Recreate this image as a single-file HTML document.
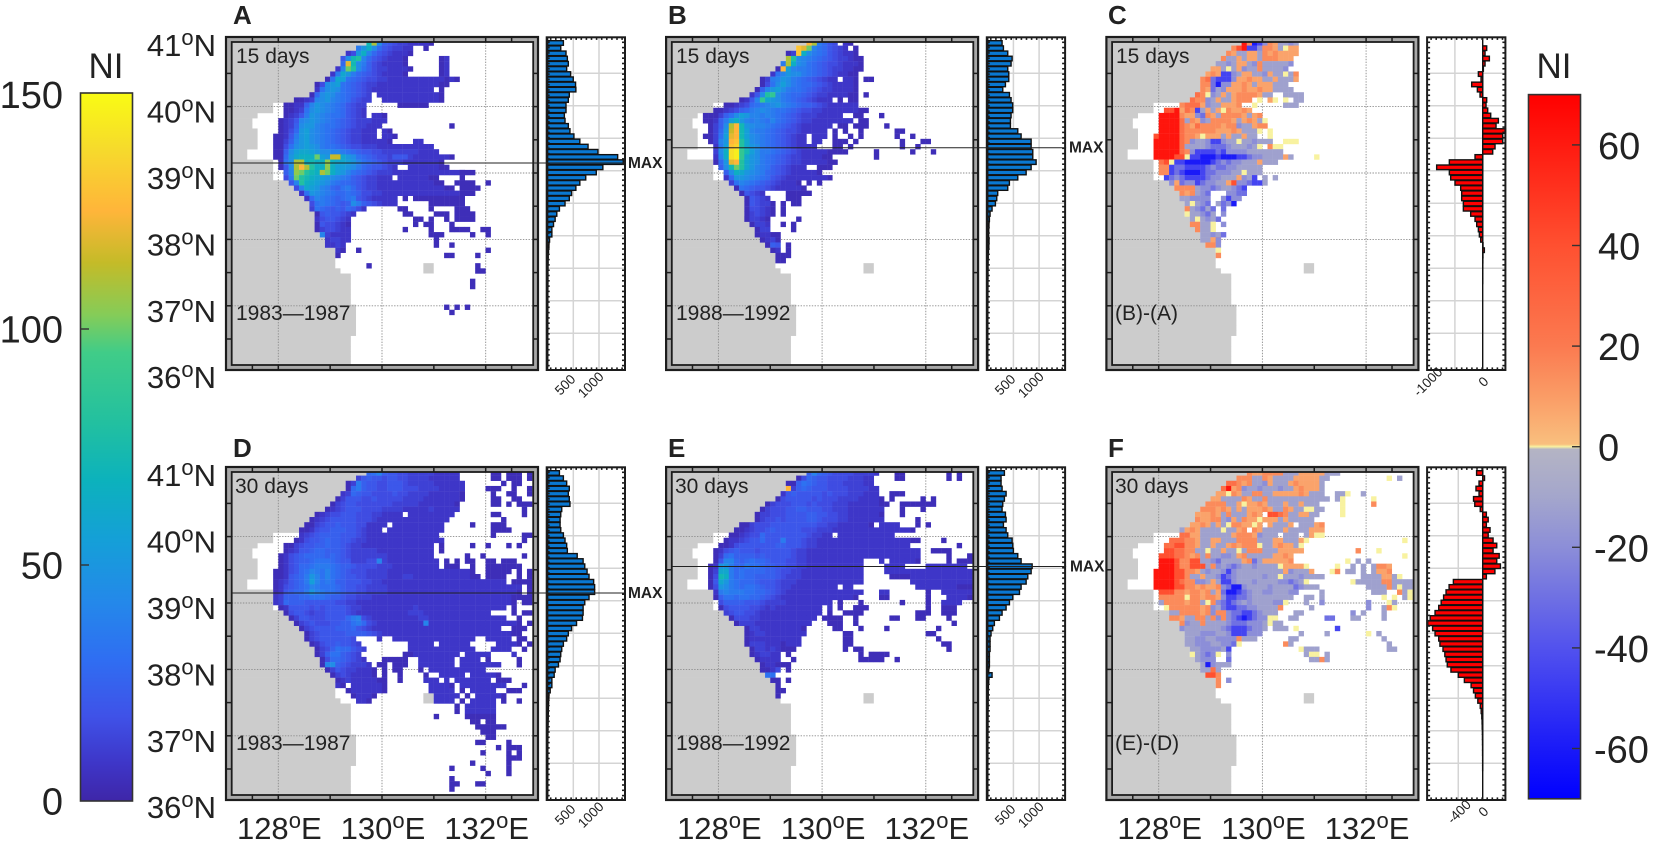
<!DOCTYPE html>
<html lang="en">
<head>
<meta charset="utf-8">
<title>NI maps</title>
<style>
html,body{margin:0;padding:0;background:#fff}
svg{display:block;filter:blur(0.35px)}
text{font-family:"Liberation Sans",Arial,sans-serif;fill:#222}
</style>
</head>
<body>
<svg id="chart" xmlns="http://www.w3.org/2000/svg" width="1654" height="841" viewBox="0 0 1654 841">
<defs>
<linearGradient id="gradNi" x1="0" y1="1" x2="0" y2="0"></linearGradient>
<linearGradient id="gradDiff" x1="0" y1="1" x2="0" y2="0"></linearGradient>
</defs>
<g id="marks"></g>
<g font-weight="bold" font-size="26">
<text x="233" y="24">A</text>
<text x="668" y="24">B</text>
<text x="1108" y="24">C</text>
<text x="233" y="457">D</text>
<text x="668" y="457">E</text>
<text x="1108" y="457">F</text>
</g>
<g font-size="21">
<text x="236" y="63">15 days</text>
<text x="236" y="320">1983—1987</text>
<text x="676" y="63">15 days</text>
<text x="676" y="320">1988—1992</text>
<text x="1116" y="63">15 days</text>
<text x="1115" y="320">(B)-(A)</text>
<text x="235" y="493">30 days</text>
<text x="236" y="750">1983—1987</text>
<text x="675" y="493">30 days</text>
<text x="676" y="750">1988—1992</text>
<text x="1115" y="493">30 days</text>
<text x="1115" y="750">(E)-(D)</text>
</g>
<g font-size="15.5" style="font-weight:600">
<text x="628" y="168">MAX</text>
<text x="1069" y="152.5">MAX</text>
<text x="628" y="598">MAX</text>
<text x="1070" y="571.5">MAX</text>
</g>
<g font-size="35">
<text x="106" y="78" text-anchor="middle">NI</text>
<text x="1554" y="78" text-anchor="middle">NI</text>
</g>
</svg>
<script>
// ---------- axis ticks ----------
const lonLabels = [128, 130, 132];
const latLabels = [41, 40, 39, 38, 37, 36];
const lonTicks = [127.5, 128, 129, 130, 131, 132, 132.5];
const lonGrid = [128, 130, 132];
const latGrid = [40, 39, 38, 37];
const latTicks = [40.5, 40, 39.5, 39, 38.5, 38, 37.5, 37, 36.5];
const niTicks = [150, 100, 50, 0];
const diffTicks = [60, 40, 20, 0, -20, -40, -60];

// ---------- colour levels ----------
const niLevels = [0,4,8,12,16,20,24,28,32,36,40,45,50,55,60,65,72,80,88,95,100,105,110,115,120,125,130,135,140,145,150];
const diffLetters = "abcdeyfghij";
const diffLevels = [-60,-45,-30,-20,-12,0,8,15,25,40,62];
const niStopValues = [0,8,18,30,42,55,68,80,95,103,114,125,138,150];
const niStopColors = ["#3e26a8","#3e36c8","#3f52e8","#2f6ef2","#2488ea","#159fd8","#0cb2bc","#22c0a0","#40cc88","#85cc58","#c4bb28","#ffb53a","#f6da2c","#f9fb14"];
const diffStopValues = [-70,-60,-40,-20,-10,-0.5,0,0.5,10,20,40,60,70];
const diffStopColors = ["#0000ff","#1a1af8","#5252ee","#8c8ed8","#a4a6cc","#b4b4c4","#f8f2a0","#f9bf7e","#fa9c66","#fb7a50","#ff5030","#ff1a10","#ff0000"];

// ---------- land mask: number of land cells in each row ----------
const coastCols = [26,24,22,22,21,20,18,17,16,15,13,12,8,8,5,4,4,5,5,5,5,3,3,8,8,8,8,9,10,11,12,13,14,14,15,15,16,16,17,18,19,20,20,20,21,23,23,23,23,23,23,24,24,24,24,24,24,23,23,23,23,23,23];

// ---------- histograms (one value per row) ----------
const histA = [307,256,358,384,403,371,448,499,544,550,422,403,358,358,326,339,403,435,512,627,787,979,1363,1472,1075,947,742,627,550,467,422,339,230,179,147,115,83,83,38,26,18,12,10,8,6,6,6,5,4,4,3,3,3,2,2,2,1,1,1,1,1,1,1];
const histB = [280,306,390,475,455,390,410,410,345,293,423,455,487,487,455,442,442,585,650,845,845,877,877,942,845,748,585,422,390,195,176,150,85,46,33,25,20,18,25,22,15,10,8,6,5,5,4,4,3,3,3,2,2,2,2,1,1,1,1,1,1,1,1];
const histC = [0,72,42,120,42,12,-78,-30,-198,-96,-48,72,60,90,144,282,240,420,360,360,222,180,-138,-600,-828,-600,-576,-498,-396,-378,-378,-348,-348,-216,-138,-108,-78,-60,-36,6,30,5,3,2,1,1,1,0,0,0,0,0,0,0,0,0,0,0,0,0,0,0,0];
const histD = [230,307,371,422,403,422,435,275,256,243,243,256,307,339,371,384,576,691,723,768,806,896,915,915,806,723,691,691,678,563,467,403,371,307,275,256,243,211,147,128,83,83,51,26,20,16,14,12,10,8,6,5,4,4,3,3,2,2,2,1,1,1,1];
const histE = [325,260,260,280,358,325,293,280,345,358,306,358,390,475,488,500,585,650,865,845,780,748,650,618,488,423,358,280,228,130,98,65,46,46,46,33,33,33,20,85,20,13,10,10,8,8,6,6,5,5,4,4,3,3,3,3,3,2,2,2,1,1,1];
const histF = [-100,30,-60,-110,-60,-150,-130,-40,60,90,60,120,90,170,230,170,270,230,290,200,60,-480,-550,-600,-640,-680,-720,-780,-860,-900,-820,-780,-720,-700,-650,-620,-600,-580,-520,-400,-300,-190,-150,-120,-80,-40,-25,-15,-10,-8,-5,-4,-3,-2,-2,-1,-1,-1,0,0,0,0,0];

// ---------- heatmap rows: [startColumn, "level characters", ...]; "." = no data ----------
const panelA = [
[26,"gmb6543322221"],
[24,"9cfb7543322",37,"1"],
[22,"24cfa75432221"],
[21,"5bgha75432221",40,"12"],
[21,"7ogb964322221",40,"12"],
[20,"2akhb8643322221",40,"12"],
[19,"29ec97654322221",40,"12"],
[18,"18ed8765443322222222222121"],
[16,"14bcd876543322222222222211"],
[16,"28bcb876543222222222222",40,"1"],
[15,"17bcb9876543",28,"2222222222221"],
[12,"1123abca9875433",29,"222222222221"],
[10,"11226acba9875433",32,"111111"],
[10,"11238bcba9875432"],
[10,"12359cba98875432",27,"221"],
[9,"1235abcba987654333222"],
[9,"1236bcca988765433222",42,"1"],
[9,"1247cdba98765433222",29,"21"],
[8,"11259cdba98765433222",29,"221"],
[8,"1136acdba98765433222221",35,"22"],
[8,"1148bcdcb9887654433322222222222"],
[8,"116bdeedcbbaa9876554433333332222"],
[8,"117cefffkdcnnecb876544355532222222",42,"1"],
[9,"18bmmfgfflfeedca8765433322222221"],
[9,"15bmpmhfflfddcb9765543",31,"2",34,"22222211"],
[10,"6alkhgfmkfdca8765433322222222222222",44,"11",46,"1"],
[10,"49khgfedcba9865433222",32,"22222211",44,"1"],
[11,"5ahfedcb9877654332222222222211",43,"1111",49,"1"],
[12,"4aedca9768975433222222222222211",44,"1111"],
[13,"28cba98778764433222222222222222111"],
[14,"27a987678954322222",33,"1",35,"1111111111"],
[15,"48987656b96543222",38,"1111111"],
[15,"38765657642",32,"11",38,"1",43,"111"],
[16,"15655432",33,"11",39,"111",43,"1111"],
[16,"2455432",35,"11",38,"1",41,"1",43,"1111"],
[16,"1544321",35,"1",37,"11",42,"1"],
[16,"1344322",33,"1",38,"1",42,"111",45,"1",48,"11"],
[17,"a32222",38,"111",46,"1",49,"1"],
[18,"23322",39,"1"],
[18,"2232",39,"1",42,"1"],
[20,"21",24,"1",49,"1"],
[20,"1",41,"11",47,"1"],
[],
[26,"1",47,"1"],
[47,"11"],
[],
[46,"1"],
[46,"1"],
[],[],[],
[41,"1",43,"1",45,"1"],
[42,"1"]
];
const panelB = [
[26,"pm9754.21"],
[24,"qoka875432",35,"1"],
[22,"13qfb987543221"],
[22,"mhba98765433211"],
[21,"9mfba87654432221"],
[20,"1pda9987654332211"],
[19,"28acbb98765432211"],
[17,"139acb987654322",33,"221",37,"11"],
[17,"148bdb9877654322221"],
[16,"16acdb98876543322221"],
[15,"25bhib987765433222211",37,"1"],
[13,"125aiecb9876543222",32,"1",34,"11"],
[10,"11234789abca98766543222222"],
[8,"11234679aba988765443322222221",37,"1"],
[6,"111368bdcaa9a98765433322222",35,"11",40,"1"],
[6,"11269dfca9a98a876543322222222",36,"11"],
[7,"136bmpgcbaa9876543222222",32,"11",35,"111",41,"1"],
[7,"137cnpgda99876544322222",31,"1",33,"1",36,"1",43,"11"],
[6,"1138dopgdba987654322",27,"222",31,"1",34,"1",36,"1",43,"1",46,"1"],
[7,"13acpqheba987654322",27,"22",31,"11",33,"1",35,"1",44,"1",48,"11"],
[8,"29dqrhecb98765432222",31,"11",34,"1",44,"1",47,"1"],
[8,"3bfstigdb99876543222221111",39,"1",46,"1",50,"1"],
[8,"2afstiecb98765433222211",39,"1"],
[8,"17cophecb987654332222211"],
[9,"6bgkheca986543222",28,"111"],
[10,"6bfecba976543222221"],
[10,"27ccba987543222222221"],
[11,"38a98765432221",26,"1",28,"1"],
[12,"18765543222221"],
[13,"15432",22,"1111",26,"1"],
[14,"15432",22,"111"],
[14,"15433",19,"1",21,"1",23,"11"],
[14,"144321",21,"1"],
[14,"134321",21,"1"],
[14,"13321",24,"1"],
[15,"1332",21,"1",23,"1"],
[16,"133",23,"1"],
[16,"1221",20,"1"],
[17,"1231"],
[18,"165",22,"1"],
[19,"12",22,"1"],
[20,"11",22,"1"],
[20,"11"]
];
const panelC = [
[25,"jgabdgfeede"],
[23,"gijbbdggfeyff"],
[22,"gfeeffegfgffff"],
[21,"geefeffegggfff"],
[20,"eedeffedgeeeeed"],
[19,"ffeyefdeegeeeed"],
[18,"fgfbbdeffeedfeeyeg"],
[17,"ghcbbbdffgffeefeeef"],
[17,"ggcaddffgfefffeee"],
[17,"gfcedfffgffgffeeee"],
[16,"hgydefefgggg",28,"fee",33,"eeee"],
[15,"hggdefeefggg",28,"y",30,"f",31,"y",33,"y",35,"ee"],
[13,"ghhhfdeefffg",27,"y",33,"eee"],
[10,"iijfhgbefefygffgf"],
[9,"jjjjgffdcgfeggggfefg"],
[9,"jjjjhegfdeggggfefgfey"],
[9,"jjjjhgfhggggfggdeefgg"],
[9,"jjjjhggggggfffgfeeey.y"],
[8,"ijjjjhggfyfffefeefee",30,"y"],
[8,"jjjjjhgdeedbbdeeyeedeee",33,"yy",35,"y"],
[8,"jjjjjheeeedcccdeeedey",30,"g",31,"yy"],
[8,"jjjjjhgdbbbbcbddddeeee",30,"eee"],
[8,"jjjjiiybbaaabaaabbcddeeeefe",39,"y"],
[9,"hiybbaaaaabcdcddeeefeee"],
[9,"ggbccbbbbcdccddeeeee"],
[9,"ggbcbaaabccdddeeyeee"],
[10,"bcdcbbbbcddeeefdeb",29,"e",31,"e"],
[11,"dfcddbcddeefiddcbb",29,"e"],
[12,"ggggeddcdeedcb"],
[13,"gfgedc",22,"ddcc"],
[13,"eedddd",21,"dbdd"],
[14,"eyedc",20,"e",21,"cda"],
[14,"gedce",19,"c",21,"c"],
[14,"yeedce",21,"d"],
[15,"eyede",20,"c"],
[15,"ggeey",21,"d"],
[16,"geey"],
[17,"eede",21,"c"],
[17,"eefh",20,"d"],
[18,"ggd"],
[20,"y"],
[20,"g"]
];
const panelD = [
[26,"78a655443333322222",50,"11.111",57,"1"],
[24,"35655455443333222222",50,"11",53,"111",57,"1"],
[22,"13965544555433333222222",52,"1",54,"11"],
[22,"17965544555444333322222",49,"111",54,"1",57,"1"],
[21,"237655444454433332222221",50,"1",53,"11",57,"1"],
[20,"1355544544444333322222221",50,"11",54,"11"],
[19,"1345544444443333322222221",50,"11",53,"1",55,"111"],
[18,"12345554444333322222322222",56,"1"],
[16,"12344555444332222.222222222",50,"11",56,"1"],
[15,"123455555444322222222222222",52,"1"],
[14,"1134556555442222.2222222222",46,"1",50,"111"],
[13,"1124556665543222.22222222222",50,"1111"],
[13,"2345666655543222222222222",38,"22",50,"1",56,"11"],
[12,"12455676655433222222222222222",56,"1"],
[10,"11345566766543322222222222222",40,"1",46,"1",49,"1",53,"1",55,"1"],
[10,"1235567766654333332222222222",38,"2",40,"1"],
[9,"124567777676543333333222222222",45,"1",48,"1",56,"1"],
[9,"1245667888765533344a32222222222",41,"1",43,"1",45,"11",49,"11",52,"111"],
[9,"1245778999876654444333222222222",41,"11",43,"1",46,"1",49,"1111111"],
[8,"1124578a98a876544433332222222222222222",46,"1",49,"11111",55,"1",57,"1"],
[8,"1125679ca8a87655443333222332222222222222",46,"11",49,"1111",55,"1.1"],
[8,"1235679da898665554433222222222222222222222222",54,"1111"],
[8,"1245678a9888765544333322222222222222222222222222",57,"1"],
[8,"1256779ca988765544333322222222222222222222222221",57,"1"],
[8,"23666778887665443332222222222222222222222222221111"],
[8,"2376665555554433222222222222222222222222222222",54,"1",56,"11"],
[9,"12555545455554332222222222322222222222222222",54,"1"],
[10,"1455434455554322222222223332222222222222",54,"1",56,"11"],
[11,"1355444555579a4322222222233222222222222222",55,"1"],
[12,"1345444556689743222222222a22222222222222222",55,"1",57,"1"],
[13,"134555566675432222222222222222222222222",54,"111"],
[14,"1345555566665432222222222222222222222222",54,"11"],
[14,"1345555554",28,"2",31,"2222222222222222",49,"22222",55,"11"],
[15,"1245565543",34,"22222.222222",51,"2222",55,"1",57,"1"],
[16,"1346877543",34,"2222222222222",50,"2222",56,"1"],
[16,"136886543",33,"11222222222.22222",54,"2"],
[17,"147765432",29,"11111",36,"2222222",44,"2222",49,"1",55,"1"],
[17,"1ab6543332",28,"11",31,"111",36,"2222222.22222222",55,"1"],
[18,"1354332221",29,"1",31,"11",36,"1",38,"22222222222"],
[19,"134322221",29,"1",32,"1",37,"1",40,"22222",46,"22222",51,"1"],
[20,"123222221",29,"1",32,"1",37,"222",41,"2",43,"2222222",51,"111"],
[20,"21",23,"222222",29,"1",38,"2222",42,"1",44,"222222222",56,"1"],
[22,"12222221",38,"22222",44,"1",46,"22222",53,"111"],
[23,"12221",39,"22222",45,"1",47,"22222",52,"1"],
[24,"221",39,"2222",44,"1",46,"22222",52,"1",55,"1"],
[43,"1",45,"222222"],
[43,"1",45,"222222"],
[39,"1",45,"111111"],
[46,"11",49,"11"],
[47,"1111",51,"11"],
[48,"111"],
[49,"11"],
[47,"11",53,"1"],
[51,"1",53,"111"],
[48,"1",53,"1",55,"1"],
[53,"111"],
[46,"1",53,"1"],
[42,"1",48,"1",53,"1"],
[49,"1",53,"1"],
[42,"1"],
[42,"11",47,"11"],
[42,"1"]
];
const panelE = [
[26,"6a765444433332",43,"11",53,"1",55,"1"],
[24,"147655444433322",43,"11",53,"1",55,"1"],
[22,"11687655444333322"],
[22,"p36765554444333322"],
[21,"2565555545444333222",42,"111"],
[20,"145555545444333322221",42,"1",48,"1",50,"1"],
[18,"134445554544433322222211",44,"111111",50,"1"],
[17,"134445566555443332222222",44,"1",48,"1"],
[16,"1334445555665544332222221",44,"1"],
[16,"1344545555665444332222222",47,"1"],
[13,"11344455555555544332222221",40,"2222",47,"1",49,"1"],
[12,"1123445655555444333222222222222222",46,"1"],
[11,"11234475555555543322.22222222222"],
[10,"122345575559555433222222222222222222",46,"11",52,"1"],
[9,"1124555555566555433222222222222222222",55,"1"],
[8,"1245655545555554332222222222222222222222",50,"1111"],
[8,"1378666656555554332222222222222222222222",53,"1",57,"1"],
[8,"15aa7678776555443322222222222",40,"2",42,"22222",47,"1",53,"1",55,"11",57,"1"],
[7,"12cc97798876655443322222222222",41,"2222",49,"22222222"],
[7,"13ee97877776654433222222222222",41,"22222222222222222"],
[7,"14gf97877666654333222222222222",42,"1111222222222222"],
[7,"15ec98777655543332222222222222",46,"222222222222"],
[7,"14cb987887655433222222222.22",47,"22222222",55,"1",56,"11"],
[8,"29a9998877654322222222222222",36,"2",40,"22",49,"1",52,"2222",56,"22"],
[8,"168878877654322222222222222",35,"1",40,"11",49,"1",53,"2222",57,"1"],
[9,"46666555433332222222",29,"22",32,"1",36,"1",44,"1",49,"1",52,"2222"],
[9,"14555544323222222222",30,"2",32,"1",35,"111",49,"1",52,"111"],
[10,"3455443222222222222",30,"1",33,"1111",47,"11",49,"1",52,"111"],
[11,"14443322222222222",29,"111",32,"1",35,"1",42,"11",47,"11",53,"1"],
[12,"133322222222222",30,"111",35,"1",54,"1"],
[14,"133222222221",31,"11",36,"1",41,"1",51,"1"],
[14,"123322222222",33,"11",49,"11"],
[14,"12222222222",33,"11",51,"1"],
[14,"1333222",21,"1222",33,"11",52,"11"],
[15,"133232",21,"111",33,"1",35,"11",53,"1"],
[15,"123322",22,"1",36,"1",38,"111",41,"1"],
[16,"12222",23,"1",36,"11111",43,"1"],
[17,"122",20,"111"],
[17,"1124",22,"1"],
[18,"88"],
[19,"11",22,"1"],
[20,"1"],
[20,"11"],
[20,"1"]
];
const panelF = [
[26,"gffggggeeefffffeee"],
[24,"gggeegfeeeefffffee",53,"y",55,"e"],
[22,"hhgfgeedfeeefgffffe"],
[21,"hjfgdeedeeedeefgfffe"],
[20,"ffygfeeggeefffffgfeee",43,"ee",45,"y",48,"e"],
[19,"ffeeeegfeegeeeeeeeeeeee",43,"ey",50,"y"],
[18,"ggggeefyffgfeeefeefeee",44,"y",50,"g"],
[17,"gggfgfefefffgfeegfeeyyee",44,"y"],
[16,"fffgfegeeefgf.iihgeeffee",44,"y"],
[16,"gffggedfegffyfffefeeeee"],
[15,"ffgfefeyggffyf.feeef.eeefg"],
[13,"efgfeeeeyeefg.gfeeeefeeeefff"],
[13,"hhffeeeeeefgggfdeee.eee.efyy"],
[11,"hhhggfeeffeeeggggeeeffeeefy",56,"y"],
[10,"hhiiggfeefeefgfgggyeefgffey"],
[10,"iihhggeeyeefeeyegggeeefffff",47,"g",51,"y"],
[9,"iiihhgfgegeeddefgeeeeeffgf",56,"y"],
[9,"jjjiggiieedceeeefgcefffffg",45,"y",47,"e",49,"e"],
[9,"jjjiggiiiegdedcdeedeeeeyffffy",43,"y",46,"e",48,"e",50,"eggf"],
[8,"jjjjiiggfedeedbdeeeeeeeeefdeeef",42,"yg",45,"ee",48,"e",50,"effg"],
[8,"jjjjiigeefeedbcdeeeeedeeyeeedeeee",48,"eeeeffey"],
[8,"jjjjihggddefebbdeeedeeeeddcdey",46,"y",47,"eeeeeggeeee"],
[8,"jjjjiiggfgffgdcaadeeeedeeeecdeee",49,"eeeegeyeeg"],
[9,"iiiggfggfgefcaabcdeeddeeedd",40,"e",50,"e",51,"ee",55,"gey"],
[9,"gggggyggfggfdbbccdeeeeeeee",37,"ee",40,"e",52,"y",54,"y",56,"ey"],
[9,"eggggfggeygdcbcdedeeeeddy",37,"e",40,"d",49,"d",53,"ye"],
[10,"yggggggfgdecbbccddeeeeg",38,"e",49,"d",52,"egy"],
[11,"eeggggfgdggdccbbcdeee",35,"ee",46,"d",48,"e",52,"e"],
[11,"ggfeeggegdgdcbabcddee",30,"yy",34,"ee",41,"cc",46,"ee",52,"e"],
[13,"gdeegeeeedcccddde",30,"y",31,"ee"],
[13,"deeeeeeedcbbbcdde",31,"eee",35,"y",43,"b"],
[14,"eeedddeedbbbddd",36,"e",41,"e",49,"y",51,"e"],
[14,"eeddeeddddgeee",34,"ee",52,"e"],
[14,"eedddeeddcy",33,"g",34,"e",53,"e"],
[15,"eedddde",22,"b",36,"y",37,"eee",53,"ee"],
[15,"yedcdy",22,"d",37,"eyy",41,"e"],
[16,"eddd",22,"c",38,"eeg",41,"e"],
[17,"ea",19,"d",20,"eee"],
[17,"eeh",20,"e"],
[18,"iig"],
[20,"g",22,"d"],
[20,"g"]
];

// ---------- panel layout ----------
const panelLayout = [
 {key:"a", left:231.7, top:0,   rows:panelA, hist:histA, diff:false, scale:0.0514, zero:0.9,  maxLat:39.15, lon:false},
 {key:"b", left:671.8, top:0,   rows:panelB, hist:histB, diff:false, scale:0.0514, zero:0.9,  maxLat:39.38, lon:false},
 {key:"c", left:1112.1,top:0,   rows:panelC, hist:histC, diff:true,  scale:0.0556, zero:55.6, maxLat:null,  lon:false},
 {key:"d", left:231.7, top:430, rows:panelD, hist:histD, diff:false, scale:0.0514, zero:0.9,  maxLat:39.15, lon:true},
 {key:"e", left:671.8, top:430, rows:panelE, hist:histE, diff:false, scale:0.0514, zero:0.9,  maxLat:39.55, lon:true},
 {key:"f", left:1112.1,top:430, rows:panelF, hist:histF, diff:true,  scale:0.0611, zero:55.6, maxLat:null,  lon:true}
];
const histTickSets = {a:[500,1000],b:[500,1000],c:[-1000,0],d:[500,1000],e:[500,1000],f:[-400,0]};
const histGridSets = {a:[500,1000],b:[500,1000],c:[-500,0],d:[500,1000],e:[500,1000],f:[-400,0]};

const SVGNS = "http://www.w3.org/2000/svg";
const CELL = 5.18;
const marks = document.getElementById("marks");

function make(tag, attrs, parent){
  const e = document.createElementNS(SVGNS, tag);
  for (const k in attrs) e.setAttribute(k, attrs[k]);
  parent.appendChild(e);
  return e;
}
function hex(c){return [parseInt(c.slice(1,3),16),parseInt(c.slice(3,5),16),parseInt(c.slice(5,7),16)];}
function ramp(v, vals, cols){
  if (v <= vals[0]) return cols[0];
  for (let i=1;i<vals.length;i++){
    if (v <= vals[i]){
      const t=(v-vals[i-1])/(vals[i]-vals[i-1]);
      const a=hex(cols[i-1]), b=hex(cols[i]);
      return "rgb("+[0,1,2].map(function(j){return Math.round(a[j]+(b[j]-a[j])*t);}).join(",")+")";
    }
  }
  return cols[cols.length-1];
}
function cellColor(ch, isDiff){
  if (isDiff){
    const v = diffLevels[diffLetters.indexOf(ch)];
    return ramp(v, diffStopValues, diffStopColors);
  }
  const n = niLevels[parseInt(ch,36)];
  return ramp(n, niStopValues, niStopColors);
}
// axes
function cellX(p,col){return p.left+col*CELL;}
function cellY(p,row){return p.top+40.4+row*CELL;}
function lonX(p,lon){return p.left+46.6+(lon-128)*51.85;}
function latY(p,lat){return p.top+173-(lat-39)*66.4;}
function histLeft(p){return p.left+315;}
function histX(p,v){return histLeft(p)+p.zero+v*p.scale;}
function niY(v){return 801-v*4.72;}
function diffY(v){return 446.7-v*5.03;}
function firstDataCol(row){return row && row.length ? row[0] : null;}

// gradients
[["gradNi",niStopValues,niStopColors,0,150],["gradDiff",diffStopValues,diffStopColors,-70,70]].forEach(function(g){
  const node=document.getElementById(g[0]);
  g[1].forEach(function(v,i){
    const s=make("stop",{offset:(v-g[3])/(g[4]-g[3]),"stop-color":g[2][i]},node);
    
    
  });
});

panelLayout.forEach(function(p){
  const group=make("g",{},marks);
  
  

  // land: the coast meets the first data cell along the diagonal shores
  coastCols.forEach(function(n,r){
    let cols=n;
    const f=firstDataCol(p.rows[r]);
    if (f!==null && (r<12 || (r>26 && r<42)) && f>n && f<=n+6) cols=f;
    const land=make("rect",{x:p.left,y:cellY(p,r),width:cols*CELL,height:CELL+0.3,fill:"#cccccc"},group);
    
    
  });
  const isle=make("rect",{x:cellX(p,37),y:cellY(p,43),width:2*CELL,height:2*CELL,fill:"#cccccc"},group);
  
  

  // grid
  lonGrid.forEach(function(l){
    const g=make("line",{x1:lonX(p,l),x2:lonX(p,l),y1:p.top+42,y2:p.top+365,stroke:"#8c8c8c","stroke-width":0.9,"stroke-dasharray":"1.4 1.4"},group);
    
    
  });
  latGrid.forEach(function(l){
    const g=make("line",{x1:p.left,x2:p.left+301.5,y1:latY(p,l),y2:latY(p,l),stroke:"#8c8c8c","stroke-width":0.9,"stroke-dasharray":"1.4 1.4"},group);
    
    
  });

  // heat cells
  p.rows.forEach(function(row,r){
    for (let s=0;s<row.length;s+=2){
      const start=row[s], str=row[s+1];
      for (let i=0;i<str.length;i++){
        const ch=str[i];
        if (ch==="."||start+i>57) continue;
        const cell=make("rect",{x:cellX(p,start+i),y:cellY(p,r),width:CELL+0.2,height:CELL+0.2,fill:cellColor(ch,p.diff)},group);
        
        
      }
    }
  });

  // map frame band
  const ox=p.left-5.7, oy=p.top+37, ow=312, oh=333;
  const ix=p.left, iy=p.top+42, iw=301.5, ih=323;
  const band=make("path",{d:"M"+ox+" "+oy+"h"+ow+"v"+oh+"h"+(-ow)+"zM"+ix+" "+iy+"v"+ih+"h"+iw+"v"+(-ih)+"z",fill:"#a8a8a8","fill-rule":"evenodd"},group);
  
  
  const outer=make("rect",{x:ox,y:oy,width:ow,height:oh,fill:"none",stroke:"#1c1c1c","stroke-width":2.2},group);
  
  
  const inner=make("rect",{x:ix,y:iy,width:iw,height:ih,fill:"none",stroke:"#1c1c1c","stroke-width":1.8},group);
  
  

  // frame ticks
  lonTicks.forEach(function(l){
    [[oy,iy],[iy+ih,oy+oh]].forEach(function(a){
      const t=make("line",{x1:lonX(p,l),x2:lonX(p,l),y1:a[0],y2:a[1],stroke:"#1c1c1c","stroke-width":1.5},group);
      
      
    });
  });
  latTicks.forEach(function(l){
    [[ox,ix],[ix+iw,ox+ow]].forEach(function(a){
      const t=make("line",{x1:a[0],x2:a[1],y1:latY(p,l),y2:latY(p,l),stroke:"#1c1c1c","stroke-width":1.5},group);
      
      
    });
  });

  // histogram
  const hl=histLeft(p), ht=p.top+37.3, hw=78.3, hh=332.7;
  const hg=make("g",{},group);
  
  
  histGridSets[p.key].forEach(function(v){
    if (p.diff && v===0) return;
    const g=make("line",{x1:histX(p,v),x2:histX(p,v),y1:ht,y2:ht+hh,stroke:"#d4d4d4","stroke-width":1.5},hg);
    
    
  });
  for (let k=0;k<9;k++){
    const y=p.top+73.3+32.5*k;
    const g=make("line",{x1:hl,x2:hl+hw,y1:y,y2:y,stroke:"#d4d4d4","stroke-width":1.5},hg);
    
    
  }
  const base=make("line",{x1:histX(p,0),x2:histX(p,0),y1:ht,y2:ht+hh,stroke:"#111","stroke-width":1.4},hg);
  
  
  p.hist.forEach(function(v,r){
    if (v===0) return;
    const a=histX(p,Math.min(v,0)), b=histX(p,Math.max(v,0));
    const bar=make("rect",{x:Math.max(a,hl),y:cellY(p,r)+0.3,width:Math.min(b,hl+hw)-Math.max(a,hl),height:CELL-0.6,fill:p.diff?"#ff0000":"#0a78d2",stroke:"#111","stroke-width":1.4},hg);
    
    
  });
  const hf=make("rect",{x:hl,y:ht,width:hw,height:hh,fill:"none",stroke:"#1c1c1c","stroke-width":2},hg);
  
  
  for (let y=ht+5;y<ht+hh-2;y+=5.3){
    [[hl,hl+3],[hl+hw-3,hl+hw]].forEach(function(a){
      const t=make("line",{x1:a[0],x2:a[1],y1:y,y2:y,stroke:"#1c1c1c","stroke-width":1.6},hg);
      
      
    });
  }
  for (let x=hl+4;x<hl+hw-2;x+=5.1){
    [[ht,ht+2.6],[ht+hh-2.6,ht+hh]].forEach(function(a){
      const t=make("line",{x1:x,x2:x,y1:a[0],y2:a[1],stroke:"#1c1c1c","stroke-width":1.6},hg);
      
      
    });
  }
  histTickSets[p.key].forEach(function(v){
    const x=histX(p,v);
    const tx=p.diff?x+4:x-5, ty=p.top+(p.diff?385:388);
    const lab=make("text",{x:tx,y:ty,"font-size":13.5,"text-anchor":"middle",fill:"#333",transform:"rotate(-45 "+tx+" "+ty+")"},hg);
    
    
    lab.textContent=String(v);
  });

  // MAX line
  if (p.maxLat!==null){
    const y=latY(p,p.maxLat);
    const m=make("line",{x1:p.left,x2:hl+hw+1,y1:y,y2:y,stroke:"#222","stroke-width":1},group);
    
    
  }

  // latitude labels (left column only)
  if (p.key==="a"||p.key==="d"){
    latLabels.forEach(function(l){
      const t=make("text",{x:216,y:latY(p,l)+16,"font-size":31,"text-anchor":"end"},group);
      
      
      const a=make("tspan",{},t); a.textContent=String(l);
      const b=make("tspan",{dy:-11,"font-size":22},t); b.textContent="o";
      const c=make("tspan",{dy:11},t); c.textContent="N";
    });
  }
  // longitude labels
  if (p.lon){
    lonLabels.forEach(function(l){
      const t=make("text",{x:lonX(p,l)+1,y:839,"font-size":31,"text-anchor":"middle"},group);
      
      
      const a=make("tspan",{},t); a.textContent=String(l);
      const b=make("tspan",{dy:-11,"font-size":22},t); b.textContent="o";
      const c=make("tspan",{dy:11},t); c.textContent="E";
    });
  }
});

// left colour bar
const barL=make("rect",{x:80.5,y:niY(150),width:52,height:niY(0)-niY(150),fill:"url(#gradNi)",stroke:"#333","stroke-width":1.6},marks);


niTicks.forEach(function(v){
  if (v!==150 && v!==0){
    const t=make("line",{x1:80.5,x2:89,y1:niY(v),y2:niY(v),stroke:"#333","stroke-width":1.4},marks);
    
    
  }
  const lab=make("text",{x:63,y:niY(v)+(v===150?15:13.5),"font-size":38,"text-anchor":"end"},marks);
  
  
  lab.textContent=String(v);
});
// right colour bar
const barR=make("rect",{x:1528.5,y:diffY(70),width:52,height:diffY(-70)-diffY(70),fill:"url(#gradDiff)",stroke:"#333","stroke-width":1.6},marks);


diffTicks.forEach(function(v){
  const t=make("line",{x1:1572,x2:1580.5,y1:diffY(v),y2:diffY(v),stroke:"#333","stroke-width":1.4},marks);
  
  
  const lab=make("text",{x:v<0?1594:1598,y:diffY(v)+14,"font-size":38},marks);
  
  
  lab.textContent=String(v);
});
</script>
</body>
</html>
